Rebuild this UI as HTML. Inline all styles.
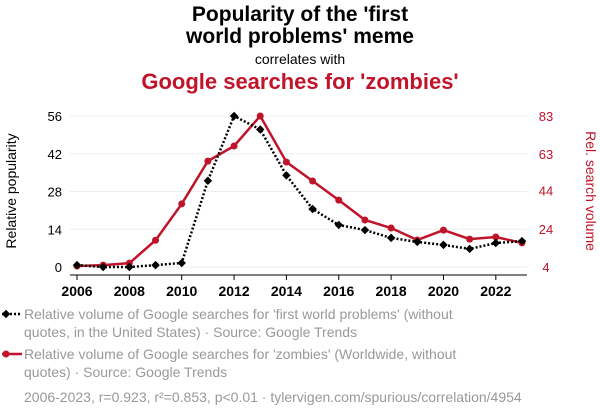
<!DOCTYPE html>
<html><head><meta charset="utf-8"><style>
body{margin:0;background:#fff;width:600px;height:414px;overflow:hidden;font-family:"Liberation Sans",sans-serif}
</style></head><body>
<svg width="600" height="414" xmlns="http://www.w3.org/2000/svg" font-family="Liberation Sans, sans-serif">
<text x="300" y="21" text-anchor="middle" font-size="21" font-weight="bold" fill="#000">Popularity of the 'first</text>
<text x="300" y="43" text-anchor="middle" font-size="21" font-weight="bold" fill="#000">world problems' meme</text>
<text x="300" y="64" text-anchor="middle" font-size="14" fill="#000">correlates with</text>
<text x="300" y="89" text-anchor="middle" font-size="22" font-weight="bold" fill="#c0142b">Google searches for 'zombies'</text>
<g id="grid"></g>
<g id="axes"></g>
<g id="marks"></g>
<text transform="translate(16,191) rotate(-90)" text-anchor="middle" font-size="14" fill="#000">Relative popularity</text>
<text transform="translate(586,191) rotate(90)" text-anchor="middle" font-size="14" fill="#c0142b">Rel. search volume</text>
<g>
<line x1="2" y1="314" x2="22" y2="314" stroke="#000" stroke-width="2.5" stroke-dasharray="2,2"/>
<rect x="3" y="311" width="6" height="6" transform="rotate(45 6 314)" fill="#000"/>
<text x="24" y="319" font-size="14" fill="#999">Relative volume of Google searches for 'first world problems' (without</text>
<text x="24" y="337" font-size="14" fill="#999">quotes, in the United States) · Source: Google Trends</text>
</g>
<g>
<line x1="2" y1="354" x2="22" y2="354" stroke="#c0142b" stroke-width="2.5"/>
<circle cx="6" cy="354" r="3.5" fill="#c0142b"/>
<text x="24" y="359" font-size="14" fill="#999">Relative volume of Google searches for 'zombies' (Worldwide, without</text>
<text x="24" y="377" font-size="14" fill="#999">quotes) · Source: Google Trends</text>
</g>
<text x="24" y="402" font-size="14" fill="#999">2006-2023, r=0.923, r²=0.853, p&lt;0.01 · tylervigen.com/spurious/correlation/4954</text>
</svg>
<script>
const years=[2006,2007,2008,2009,2010,2011,2012,2013,2014,2015,2016,2017,2018,2019,2020,2021,2022,2023];
const memeValues=[0.7,0,0,0.7,1.5,32,56,51,34,21.5,15.6,13.7,10.8,9.3,8.2,6.7,8.9,9.6];
const zombieValues=[4.5,5,6,18,37,59.4,67.3,83,58.9,49,39,28.6,24.4,18.1,23.3,18.6,19.7,16.6];
const xTicks=[2006,2008,2010,2012,2014,2016,2018,2020,2022];
const leftTicks=[0,14,28,42,56];
const rightTicks=[4,24,44,63,83];
const NS="http://www.w3.org/2000/svg";
const x=v=>77+(v-2006)*(522-77)/17;
const yL=v=>267-v*(151/56);
const yR=v=>267-(v-4)*(151/79);
function mk(tag,attrs,parent,text){const e=document.createElementNS(NS,tag);for(const k in attrs)e.setAttribute(k,attrs[k]);if(text!==undefined)e.textContent=text;document.getElementById(parent).appendChild(e);return e;}
leftTicks.forEach(t=>{
 const g=mk('line',{x1:70,x2:527,y1:yL(t),y2:yL(t),stroke:'#eee','stroke-width':1},'grid');
 
 
 const l=mk('text',{x:62,y:yL(t)+5,'text-anchor':'end','font-size':13,fill:'#000'},'axes',t);
 
 
});
rightTicks.forEach(t=>{
 const l=mk('text',{x:546,y:yR(t)+5,'text-anchor':'middle','font-size':13,fill:'#c0142b'},'axes',t);
 
 
});
xTicks.forEach(t=>{
 const l=mk('text',{x:x(t),y:296,'text-anchor':'middle','font-size':14,'font-weight':'bold',fill:'#000'},'axes',t);
 
 
 const k=mk('line',{x1:x(t),x2:x(t),y1:275,y2:280,stroke:'#000'},'axes');
 
 
});
const ax=mk('line',{x1:70,x2:527,y1:275,y2:275,stroke:'#000','stroke-width':1},'axes');


const zp=mk('polyline',{points:years.map((y,i)=>x(y)+','+yR(zombieValues[i])).join(' '),fill:'none',stroke:'#c0142b','stroke-width':2.5},'marks');


years.forEach((y,i)=>{
 const c=mk('circle',{cx:x(y),cy:yR(zombieValues[i]),r:3.5,fill:'#c0142b'},'marks');
 
 
});
const mp=mk('polyline',{points:years.map((y,i)=>x(y)+','+yL(memeValues[i])).join(' '),fill:'none',stroke:'#000','stroke-width':2.5,'stroke-dasharray':'2,2'},'marks');


years.forEach((y,i)=>{
 const cx=x(y),cy=yL(memeValues[i]);
 const r=mk('rect',{x:cx-3,y:cy-3,width:6,height:6,fill:'#000',transform:`rotate(45 ${cx} ${cy})`},'marks');
 
 
});
</script>
</body></html>
